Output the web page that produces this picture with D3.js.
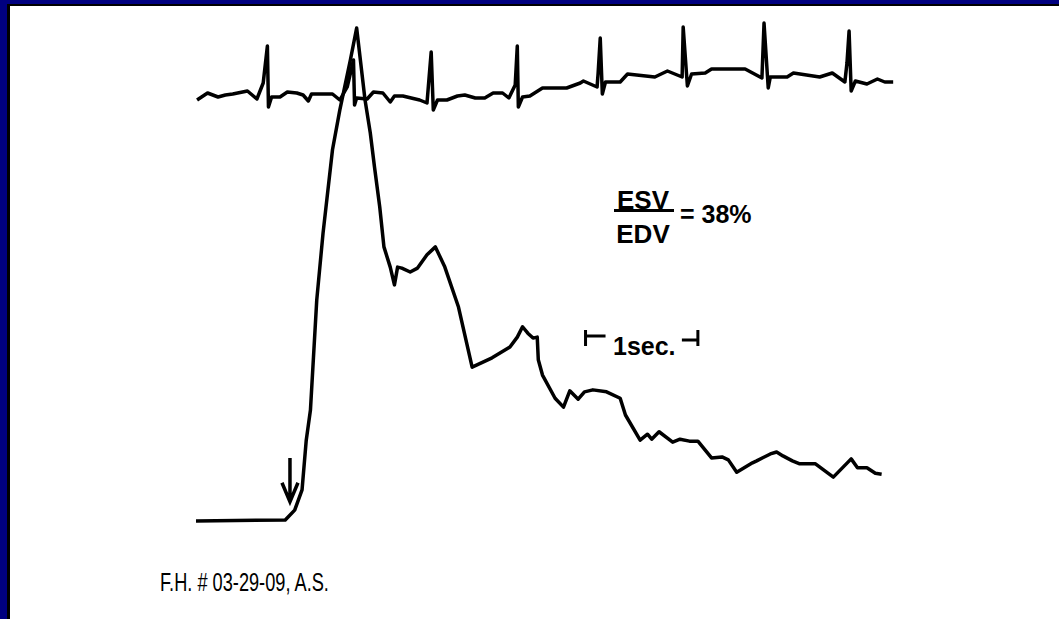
<!DOCTYPE html>
<html>
<head>
<meta charset="utf-8">
<script src="https://cdn.jsdelivr.net/npm/d3@7"></script>
<style>
  html, body { margin: 0; padding: 0; background: #fff; }
  svg { display: block; }
</style>
</head>
<body>
<div id="chart"></div>
<script>
// Dimensions
const width = 1059;
const height = 619;

// ECG trace (time in s, amplitude in mV)
const ecgTime = [0.01, 0.11, 0.21, 0.28, 0.35, 0.49, 0.58, 0.64, 0.68, 0.69, 0.72, 0.80, 0.87, 0.96, 1.02, 1.07, 1.10, 1.30, 1.37, 1.44, 1.50, 1.51, 1.53, 1.63, 1.69, 1.78, 1.85, 1.89, 1.97, 2.13, 2.20, 2.24, 2.26, 2.30, 2.39, 2.49, 2.56, 2.66, 2.75, 2.83, 2.92, 2.98, 3.04, 3.06, 3.07, 3.11, 3.18, 3.30, 3.53, 3.66, 3.69, 3.82, 3.83, 3.85, 3.87, 3.90, 4.04, 4.11, 4.37, 4.49, 4.63, 4.64, 4.68, 4.72, 4.85, 4.91, 5.23, 5.39, 5.41, 5.45, 5.47, 5.63, 5.69, 5.94, 6.06, 6.18, 6.20, 6.22, 6.24, 6.28, 6.39, 6.49, 6.56, 6.64];
const ecgMv = [-0.08, 0.06, -0.02, 0.02, 0.04, 0.10, -0.06, 0.26, 1.00, -0.22, -0.02, -0.02, 0.08, 0.06, 0.02, -0.10, 0.04, 0.04, -0.08, 0.18, 0.72, -0.18, -0.04, -0.06, 0.08, 0.06, -0.12, 0.00, 0.00, -0.08, -0.14, 0.88, -0.28, -0.08, -0.08, 0.00, 0.02, -0.04, -0.04, 0.06, 0.06, -0.04, 0.22, 1.00, -0.22, -0.02, 0.00, 0.16, 0.16, 0.26, 0.30, 0.18, 0.46, 1.16, 0.04, 0.28, 0.28, 0.44, 0.38, 0.50, 0.38, 1.38, 0.20, 0.44, 0.46, 0.54, 0.54, 0.36, 1.46, 0.16, 0.38, 0.38, 0.46, 0.38, 0.46, 0.28, 0.66, 1.30, 0.10, 0.30, 0.24, 0.34, 0.28, 0.28];

// Indicator dilution curve (time in s, relative counts %)
const dilTime = [0.00, 0.85, 0.94, 1.01, 1.05, 1.09, 1.15, 1.21, 1.30, 1.37, 1.47, 1.53, 1.61, 1.66, 1.70, 1.75, 1.79, 1.85, 1.89, 1.92, 1.96, 2.04, 2.11, 2.20, 2.28, 2.37, 2.50, 2.63, 2.82, 2.99, 3.06, 3.11, 3.16, 3.21, 3.25, 3.26, 3.30, 3.42, 3.50, 3.56, 3.64, 3.70, 3.78, 3.91, 4.04, 4.09, 4.23, 4.30, 4.34, 4.41, 4.54, 4.61, 4.70, 4.78, 4.91, 5.01, 5.07, 5.15, 5.30, 5.34, 5.47, 5.53, 5.59, 5.68, 5.75, 5.90, 6.07, 6.24, 6.30, 6.39, 6.47, 6.53];
const dilCounts = [0.0, 0.2, 2.2, 6.3, 16.4, 22.5, 44.8, 58.4, 75.3, 83.4, 93.5, 100, 85.4, 78.7, 71.8, 63.7, 55.6, 51.5, 47.9, 51.5, 51.3, 50.5, 51.3, 54.0, 55.6, 51.5, 43.4, 31.2, 33.1, 35.3, 37.3, 39.4, 38.1, 37.1, 37.3, 32.7, 29.6, 24.9, 23.1, 26.4, 24.7, 26.2, 26.6, 26.2, 24.9, 21.5, 16.4, 17.6, 16.6, 18.1, 16.0, 16.6, 16.2, 16.2, 12.8, 13.0, 12.4, 9.9, 11.8, 12.2, 13.6, 14.0, 13.2, 12.2, 11.6, 11.6, 8.9, 12.6, 10.8, 10.8, 9.7, 9.5];

// Injection arrow and 1 s time marker (in data units)
const injection = { t: 0.895, from: 12.8, to: 3.9 };
const secondMark = [3.71, 4.78];

const font = "Liberation Sans, Arial, sans-serif";

const svg = d3
  .select("#chart")
  .append("svg")
  .attr("width", width)
  .attr("height", height);

// Frame: navy border, thin black line, white slide
svg.append("rect").attr("width", width).attr("height", height).attr("fill", "#000080");
svg.append("rect").attr("x", 7).attr("y", 4).attr("width", width).attr("height", height).attr("fill", "#000");
svg.append("rect").attr("x", 10).attr("y", 6).attr("width", width).attr("height", height).attr("fill", "#fff");

// Scales
const x = d3.scaleLinear().domain([0, 6.705]).range([196, 900]);
const yDil = d3.scaleLinear().domain([0, 100]).range([521, 28]);
const yEcg = d3.scaleLinear().domain([0, 1]).range([96, 46]);

const ecgLine = d3
  .line()
  .x((d, i) => x(ecgTime[i]))
  .y(d => yEcg(d));

const dilLine = d3
  .line()
  .x((d, i) => x(dilTime[i]))
  .y(d => yDil(d));

// ECG
svg
  .append("path")
  .datum(ecgMv)
  .attr("fill", "none")
  .attr("stroke", "#000")
  .attr("stroke-width", 3.5)
  .attr("stroke-linejoin", "round")
  .attr("d", ecgLine);

// Dilution curve
svg
  .append("path")
  .datum(dilCounts)
  .attr("fill", "none")
  .attr("stroke", "#000")
  .attr("stroke-width", 3.5)
  .attr("stroke-linejoin", "round")
  .attr("d", dilLine);

// Injection arrow
const ax = x(injection.t);
const ay = yDil(injection.to);
svg
  .append("path")
  .attr("fill", "none")
  .attr("stroke", "#000")
  .attr("stroke-width", 3.5)
  .attr("d", `M${ax},${yDil(injection.from)}V${ay}M${ax - 8},${ay - 19}L${ax},${ay}L${ax + 8},${ay - 19}`);

// 1 sec marker
const x0 = x(secondMark[0]);
const x1 = x(secondMark[1]);
svg
  .append("path")
  .attr("fill", "none")
  .attr("stroke", "#000")
  .attr("stroke-width", 3)
  .attr("d", `M${x0},330V346M${x0},336H${x0 + 20}M${x1},330V346M${x1},340H${x1 - 16}`);

svg
  .append("text")
  .attr("x", 613)
  .attr("y", 355)
  .attr("font-family", font)
  .attr("font-weight", "bold")
  .attr("font-size", "25px")
  .text("1sec.");

// ESV / EDV ratio
svg
  .append("text")
  .attr("x", 643)
  .attr("y", 209)
  .attr("text-anchor", "middle")
  .attr("font-family", font)
  .attr("font-weight", "bold")
  .attr("font-size", "26px")
  .text("ESV");

svg
  .append("line")
  .attr("x1", 614)
  .attr("x2", 674)
  .attr("y1", 210.5)
  .attr("y2", 210.5)
  .attr("stroke", "#000")
  .attr("stroke-width", 3);

svg
  .append("text")
  .attr("x", 643)
  .attr("y", 243)
  .attr("text-anchor", "middle")
  .attr("font-family", font)
  .attr("font-weight", "bold")
  .attr("font-size", "26px")
  .text("EDV");

svg
  .append("text")
  .attr("x", 680)
  .attr("y", 223)
  .attr("font-family", font)
  .attr("font-weight", "bold")
  .attr("font-size", "25px")
  .text("= 38%");

// Patient label
svg
  .append("text")
  .attr("transform", "translate(160,591) scale(0.7,1)")
  .attr("font-family", font)
  .attr("font-size", "26px")
  .text("F.H. # 03-29-09, A.S.");
</script>
</body>
</html>
